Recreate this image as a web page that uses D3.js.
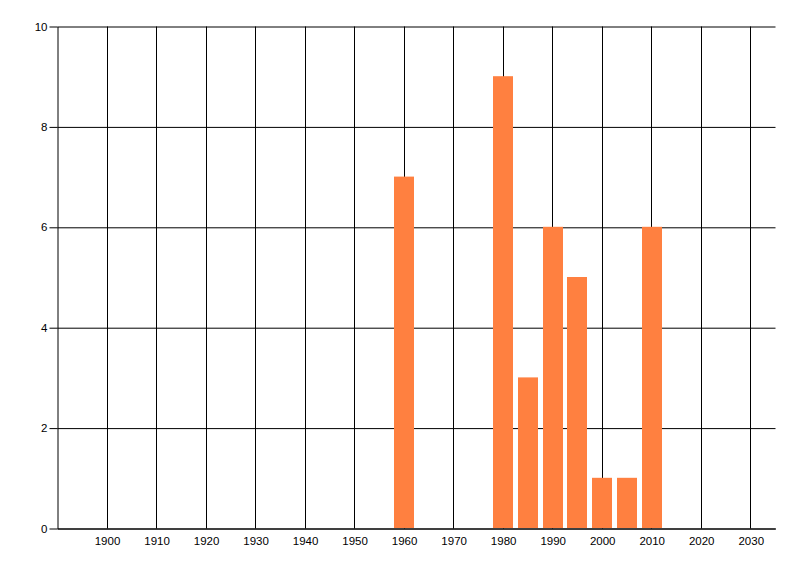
<!DOCTYPE html>
<html>
<head>
<meta charset="utf-8">
<script src="https://cdn.jsdelivr.net/npm/d3@7"></script>
<style>
  html, body { margin: 0; padding: 0; background: #fff; }
  svg text { font-family: "Liberation Sans", Arial, sans-serif; font-size: 11.5px; fill: #000; }
</style>
</head>
<body>
<div id="chart"></div>
<script>
// datos
const years = [1960, 1980, 1985, 1990, 1995, 2000, 2005, 2010];
const counts = [7, 9, 3, 6, 5, 1, 1, 6];
const xTicks = [1900, 1910, 1920, 1930, 1940, 1950, 1960, 1970, 1980, 1990, 2000, 2010, 2020, 2030];
const yTicks = [0, 2, 4, 6, 8, 10];

const W = 800, H = 576;
const plotLeft = 57.5, plotRight = 775.5, plotTop = 26.5, plotBottom = 528.5;

const svg = d3.select('#chart').append('svg')
  .attr('width', W)
  .attr('height', H);

const x = d3.scaleLinear().domain([1890, 2035]).range([plotLeft, plotRight]);
const y = d3.scaleLinear().domain([0, 10]).range([plotBottom, plotTop]);

// rejilla vertical (alineada a píxel)
svg.append('g')
  .selectAll('line')
  .data(xTicks)
  .enter()
  .append('line')
    .attr('x1', d => Math.round(x(d) - 0.5) + 0.5)
    .attr('x2', d => Math.round(x(d) - 0.5) + 0.5)
    .attr('y1', plotTop)
    .attr('y2', plotBottom)
    .attr('stroke', '#000');

// rejilla horizontal
svg.append('g')
  .attr('transform', `translate(${plotLeft},0)`)
  .call(d3.axisLeft(y).tickValues(yTicks).tickSize(-(plotRight - plotLeft)).tickFormat(''))
  .call(g => g.select('.domain').remove())
  .call(g => g.selectAll('line').attr('stroke', '#000'));

// barras
const bw = (x(1965) - x(1960)) * 0.81;
svg.selectAll('.bar')
  .data(years)
  .enter()
  .append('rect')
    .attr('class', 'bar')
    .attr('x', d => Math.round(x(d) - bw / 2))
    .attr('y', (d, i) => y(counts[i]) - 0.5)
    .attr('width', Math.round(bw))
    .attr('height', (d, i) => y(0) - y(counts[i]))
    .attr('fill', '#ff8040');

// eje Y
svg.append('g')
  .attr('transform', `translate(${plotLeft},0)`)
  .call(d3.axisLeft(y).tickValues(yTicks).tickSize(8).tickPadding(2).tickSizeOuter(0))
  .call(g => g.select('.domain').attr('stroke', '#000'))
  .call(g => g.selectAll('line').attr('stroke', '#000'));

// eje X
svg.append('g')
  .attr('transform', `translate(0,${plotBottom})`)
  .call(d3.axisBottom(x).tickValues(xTicks).tickSize(0).tickPadding(8).tickFormat(d3.format('d')).tickSizeOuter(0))
  .call(g => g.select('.domain').attr('stroke', '#000'));
</script>
</body>
</html>
